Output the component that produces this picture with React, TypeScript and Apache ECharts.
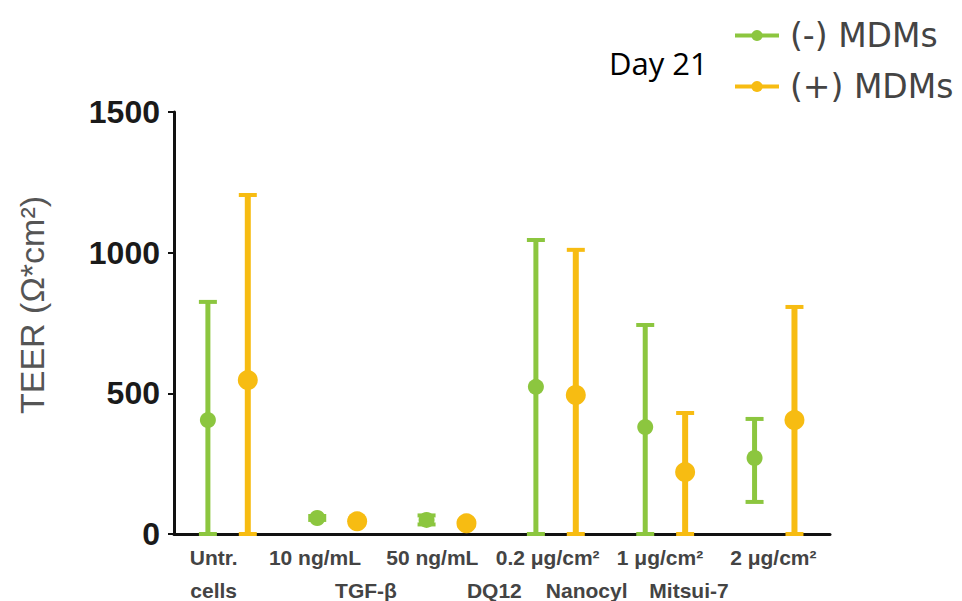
import React, { useEffect, useRef } from "react";
import * as echarts from "echarts";

const categories = ["Untr.", "10 ng/mL", "50 ng/mL", "0.2 μg/cm²", "1 μg/cm²", "2 μg/cm²"];
const groupLabels = ["cells", "TGF-β", "DQ12", "Nanocyl", "Mitsui-7", ""];
const yTicks = [0, 500, 1000, 1500];

const minusMean = [405, 57, 50, 523, 380, 270];
const minusHigh = [825, 64, 66, 1045, 743, 409];
const minusLow = [0, 50, 34, 0, 0, 114];

const plusMean = [547, 45, 38, 494, 220, 405];
const plusHigh = [1205, 52, 46, 1010, 430, 807];
const plusLow = [0, 38, 30, 0, 0, 0];

const GREEN = "#8cc63f";
const ORANGE = "#f7bc12";

// visual offsets (px) of label lines relative to tick
const row1Shift = [-15, -23, -15, -9, -6, -2];
const row2Shift = [-15, 28, 47, 30, 23, 0];

export default function App() {
  const ref = useRef<HTMLDivElement>(null);

  useEffect(() => {
    if (!ref.current) return;
    const chart = echarts.init(ref.current, null, { renderer: "svg" });

    const GOFF = -0.19;
    const OOFF = 0.175;

    const pad = (d: number) => (d >= 0 ? [0, 0, 0, 2 * d] : [0, -2 * d, 0, 0]);
    const rich: Record<string, any> = {};
    categories.forEach((_, i) => {
      rich["a" + i] = {
        fontSize: 21,
        fontWeight: "bold",
        fontFamily: "Liberation Sans",
        color: "#444",
        align: "center",
        lineHeight: 33,
        padding: pad(row1Shift[i]),
      };
      rich["b" + i] = {
        fontSize: 21,
        fontWeight: "bold",
        fontFamily: "Liberation Sans",
        color: "#444",
        align: "center",
        lineHeight: 33,
        padding: pad(row2Shift[i]),
      };
    });

    const errRender = (color: string, bw: number) => (params: any, api: any) => {
      const x = api.value(0);
      const lo = api.value(1);
      const hi = api.value(2);
      const pLo = api.coord([x, lo]);
      const pHi = api.coord([x, hi]);
      const hw = 9;
      return {
        type: "group",
        children: [
          { type: "line", shape: { x1: pLo[0], y1: pLo[1], x2: pHi[0], y2: pHi[1] }, style: { stroke: color, lineWidth: bw } },
          { type: "line", shape: { x1: pHi[0] - hw, y1: pHi[1], x2: pHi[0] + hw, y2: pHi[1] }, style: { stroke: color, lineWidth: 4 } },
          { type: "line", shape: { x1: pLo[0] - hw, y1: pLo[1], x2: pLo[0] + hw, y2: pLo[1] }, style: { stroke: color, lineWidth: 4 } },
        ],
      };
    };

    chart.setOption({
      animation: false,
      backgroundColor: "#ffffff",
      title: {
        text: "Day 21",
        left: 604,
        top: 42,
        textStyle: { fontSize: 31, fontWeight: "normal", fontFamily: "Open Sans", color: "#000" },
      },
      legend: {
        orient: "vertical",
        left: 728,
        top: 14,
        itemGap: 18,
        itemWidth: 44,
        itemHeight: 14,
        data: ["(-) MDMs", "(+) MDMs"],
        textStyle: { fontSize: 33, fontFamily: "DejaVu Sans", color: "#444", padding: [0, 0, 0, 6] },
        lineStyle: { width: 4, opacity: 1 },
      },
      grid: { left: 174, right: 132, top: 112, bottom: 67 },
      xAxis: [
        {
          type: "category",
          data: categories,
          boundaryGap: true,
          axisLine: { lineStyle: { color: "#111", width: 3 } },
          axisTick: { alignWithLabel: true, length: 10, lineStyle: { color: "#111", width: 3 } },
          axisLabel: {
            interval: 0,
            margin: 7,
            formatter: (v: string, i: number) =>
              groupLabels[i] ? `{a${i}|${v}}\n{b${i}|${groupLabels[i]}}` : `{a${i}|${v}}`,
            rich,
          },
          splitLine: { show: false },
        },
        {
          type: "value",
          min: -0.5,
          max: 5.5,
          show: false,
          splitLine: { show: false },
        },
      ],
      yAxis: {
        type: "value",
        min: 0,
        max: 1500,
        interval: 500,
        name: "TEER (Ω*cm²)",
        nameLocation: "middle",
        nameGap: 125,
        nameTextStyle: { fontSize: 34, fontFamily: "Liberation Sans", color: "#555", padding: [0, 0, 0, 36] },
        axisLine: { show: true, onZero: false, lineStyle: { color: "#111", width: 3 } },
        axisTick: { show: true, length: 6, lineStyle: { color: "#111", width: 2 } },
        axisLabel: {
          margin: 14,
          fontSize: 32,
          fontWeight: "bold",
          fontFamily: "Liberation Sans",
          color: "#1a1a1a",
          formatter: (v: number) => (yTicks.includes(v) ? String(v) : ""),
        },
        splitLine: { show: false },
      },
      series: [
        {
          type: "custom",
          xAxisIndex: 1,
          yAxisIndex: 0,
          renderItem: errRender(GREEN, 5),
          encode: { x: 0, y: [1, 2] },
          data: minusMean.map((_, i) => [i + GOFF, minusLow[i], minusHigh[i]]),
          z: 2,
        },
        {
          type: "custom",
          xAxisIndex: 1,
          yAxisIndex: 0,
          renderItem: errRender(ORANGE, 6),
          encode: { x: 0, y: [1, 2] },
          data: plusMean.map((_, i) => [i + OOFF, plusLow[i], plusHigh[i]]),
          z: 2,
        },
        {
          name: "(-) MDMs",
          type: "line",
          xAxisIndex: 1,
          yAxisIndex: 0,
          symbol: "circle",
          symbolSize: 16,
          itemStyle: { color: GREEN },
          lineStyle: { width: 0, opacity: 0 },
          data: minusMean.map((v, i) => [i + GOFF, v]),
          z: 3,
        },
        {
          name: "(+) MDMs",
          type: "line",
          xAxisIndex: 1,
          yAxisIndex: 0,
          symbol: "circle",
          symbolSize: 20,
          itemStyle: { color: ORANGE },
          lineStyle: { width: 0, opacity: 0 },
          data: plusMean.map((v, i) => [i + OOFF, v]),
          z: 3,
        },
      ],
    });

    return () => chart.dispose();
  }, []);

  return <div ref={ref} style={{ position: "absolute", left: 0, top: 0, width: 962, height: 601 }} />;
}
